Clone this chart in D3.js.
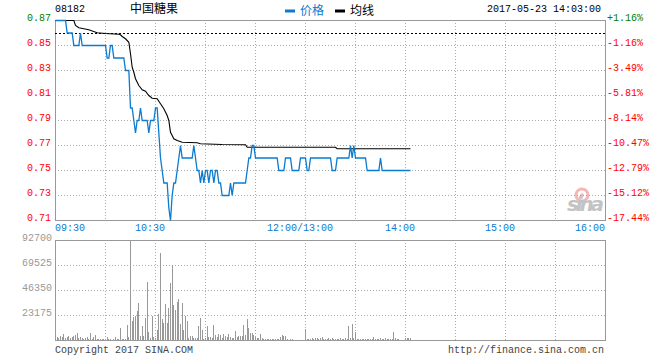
<!DOCTYPE html>
<html>
<head>
<meta charset="utf-8">
<script src="https://cdn.jsdelivr.net/npm/d3@7"></script>
<style>
  body { margin: 0; background: #fff; }
  svg text { font-family: "Liberation Mono", "DejaVu Sans Mono", monospace; font-size: 10px; }
</style>
</head>
<body>
<svg id="chart" width="660" height="360"></svg>
<script>
// -------------------- DATA -------------------- //
const stockCode = "08182";
const stockName = "中国糖果";
const stamp = "2017-05-23 14:03:00";
const prevClose = 0.86;

const priceTicks = [0.87, 0.85, 0.83, 0.81, 0.79, 0.77, 0.75, 0.73, 0.71];
const pctLabels = ["+1.16%", "-1.16%", "-3.49%", "-5.81%", "-8.14%", "-10.47%", "-12.79%", "-15.12%", "-17.44%"];
const volTicks = [92700, 69525, 46350, 23175];
const timeLabels = ["09:30", "10:30", "12:00/13:00", "14:00", "15:00", "16:00"];
const timeMinutes = [0, 60, 150, 210, 270, 330];

// price per minute from 09:30 (index 0) to 14:03
const price = [
  0.87, 0.87, 0.87, 0.87, 0.87, 0.87, 0.87, 0.86, 0.86, 0.86,
  0.86, 0.85, 0.85, 0.85, 0.85, 0.86, 0.85, 0.85, 0.85, 0.85,
  0.85, 0.85, 0.85, 0.85, 0.85, 0.85, 0.85, 0.85, 0.85, 0.85,
  0.85, 0.84, 0.84, 0.85, 0.85, 0.84, 0.84, 0.84, 0.84, 0.84,
  0.84, 0.84, 0.83, 0.83, 0.83, 0.80, 0.80, 0.79, 0.78, 0.79,
  0.79, 0.80, 0.79, 0.79, 0.79, 0.79, 0.78, 0.79, 0.79, 0.79,
  0.80, 0.80, 0.78, 0.76, 0.75, 0.74, 0.74, 0.74, 0.72, 0.71,
  0.73, 0.74, 0.74, 0.75, 0.76, 0.77, 0.76, 0.76, 0.76, 0.76,
  0.76, 0.76, 0.76, 0.77, 0.76, 0.75, 0.75, 0.74, 0.75, 0.74,
  0.75, 0.75, 0.74, 0.75, 0.75, 0.74, 0.75, 0.75, 0.74, 0.74,
  0.73, 0.73, 0.73, 0.73, 0.73, 0.74, 0.73, 0.74, 0.74, 0.74,
  0.74, 0.74, 0.74, 0.74, 0.74, 0.75, 0.76, 0.76, 0.77, 0.77,
  0.76, 0.76, 0.76, 0.76, 0.76, 0.76, 0.76, 0.76, 0.76, 0.76,
  0.76, 0.76, 0.76, 0.76, 0.75, 0.75, 0.75, 0.75, 0.76, 0.76,
  0.76, 0.76, 0.75, 0.75, 0.75, 0.75, 0.75, 0.76, 0.76, 0.76,
  0.76, 0.75, 0.75, 0.76, 0.76, 0.76, 0.76, 0.76, 0.76, 0.76,
  0.76, 0.76, 0.76, 0.76, 0.76, 0.76, 0.75, 0.75, 0.75, 0.76,
  0.76, 0.76, 0.76, 0.76, 0.76, 0.76, 0.76, 0.77, 0.76, 0.77,
  0.76, 0.76, 0.76, 0.76, 0.76, 0.76, 0.76, 0.75, 0.75, 0.75,
  0.75, 0.75, 0.75, 0.75, 0.75, 0.76, 0.75, 0.75, 0.75, 0.75,
  0.75, 0.75, 0.75, 0.75, 0.75, 0.75, 0.75, 0.75, 0.75, 0.75,
  0.75, 0.75, 0.75, 0.75
];

// average line (minute, value)
const avgMinutes = [0, 11, 12, 14, 17, 20, 25, 30, 38, 39, 40, 42, 44, 45, 46, 47, 48, 50, 52, 54, 56, 58, 61, 63, 65, 67, 68, 69, 70, 71, 73, 76, 85, 87, 100, 114, 115, 168, 169, 213];
const avgValues = [0.870, 0.870, 0.866, 0.8642, 0.8634, 0.8626, 0.8602, 0.8596, 0.859, 0.8586, 0.8572, 0.8554, 0.8526, 0.8434, 0.8326, 0.8286, 0.8234, 0.818, 0.8146, 0.8134, 0.81, 0.8078, 0.8074, 0.8034, 0.7994, 0.794, 0.79, 0.7806, 0.778, 0.7754, 0.774, 0.7726, 0.7722, 0.7714, 0.7708, 0.7706, 0.7686, 0.7686, 0.7674, 0.7674];

// volume per minute
const volume = [
  3000, 3100, 1500, 3700, 2500, 5600, 1500, 2500, 3700, 1500,
  3100, 3700, 4900, 6200, 1500, 2500, 1500, 1200, 1500, 2500,
  1200, 6200, 1200, 3100, 4300, 900, 900, 900, 600, 900,
  0, 2500, 600, 900, 0, 600, 2500, 900, 600, 10800,
  600, 1200, 1200, 13900, 3100, 92700, 17600, 21600, 22200, 27000,
  34600, 3700, 13000, 3700, 20700, 54000, 7700, 1500, 22200, 2500,
  1500, 9300, 24100, 81000, 19200, 16000, 33400, 15500, 29700, 53100,
  69500, 32400, 27800, 35000, 38000, 15200, 34600, 9300, 22200, 17900,
  1500, 3700, 3700, 1500, 1500, 2200, 13000, 20700, 9300, 1200,
  1500, 13000, 2500, 3100, 1500, 13900, 4600, 2500, 5200, 4600,
  1500, 5200, 3700, 3100, 5600, 2500, 1500, 1500, 8600, 2500,
  3700, 3700, 3700, 13900, 4600, 19800, 11400, 6800, 6200, 4600,
  2500, 1500, 1500, 5900, 1500, 900, 600, 600, 600, 600,
  900, 600, 900, 900, 600, 3100, 4300, 3700, 3700, 900,
  0, 900, 600, 0, 0, 0, 0, 0, 0, 0,
  10200, 1200, 1200, 900, 1500, 1200, 1500, 1500, 900, 1500,
  2500, 900, 900, 900, 1500, 900, 1500, 600, 600, 900,
  900, 1500, 600, 900, 1500, 900, 13000, 1500, 14500, 2100,
  7700, 1200, 1200, 900, 1200, 900, 1200, 600, 900, 600,
  900, 2500, 900, 1200, 600, 1500, 1200, 600, 1800, 600,
  1200, 600, 1200, 7700, 1500, 900, 600, 0, 0, 0,
  1800, 1800, 1500, 1800
];

// -------------------- LAYOUT -------------------- //
const svg = d3.select("#chart");
const L = 55, R = 605;
const PT = 20, PB = 220;   // price panel
const VT = 240, VB = 340;  // volume panel
const BLUE = "#0a7bd0";

const x = d3.scaleLinear().domain([0, 330]).range([L, R]);
const y = d3.scaleLinear().domain([0.71, 0.87]).range([PB, PT]);
const yv = d3.scaleLinear().domain([0, 92700]).range([VB, VT]);

const crisp = v => Math.round(v) + 0.5;

// -------------------- GRID -------------------- //
function grid(top, bottom, rows) {
  const g = svg.append("g")
    .attr("stroke", "#aaa").attr("stroke-dasharray", "1,2")
    .attr("shape-rendering", "crispEdges");
  d3.range(1, 11).forEach(i => {
    const gx = crisp(L + i * 50);
    g.append("line").attr("x1", gx).attr("x2", gx).attr("y1", top).attr("y2", bottom);
  });
  rows.forEach(gy => {
    g.append("line").attr("x1", L).attr("x2", R).attr("y1", crisp(gy)).attr("y2", crisp(gy));
  });
}
grid(PT, PB, priceTicks.slice(1, -1).map(y));
grid(VT, VB, volTicks.slice(1).map(yv));

// frames
[[PT, PB], [VT, VB]].forEach(([t, b]) => {
  svg.append("rect")
    .attr("x", L + 0.5).attr("y", t + 0.5)
    .attr("width", R - L).attr("height", b - t)
    .attr("fill", "none").attr("stroke", "#999")
    .attr("shape-rendering", "crispEdges");
});

// previous close
svg.append("line")
  .attr("x1", L).attr("x2", R)
  .attr("y1", crisp(y(prevClose))).attr("y2", crisp(y(prevClose)))
  .attr("stroke", "#000").attr("stroke-dasharray", "2,2")
  .attr("shape-rendering", "crispEdges");

// -------------------- AXIS LABELS -------------------- //
priceTicks.forEach((p, i) => {
  const c = p > prevClose ? "#008000" : "#ff0000";
  svg.append("text").attr("x", 51).attr("y", y(p) + 1)
    .attr("text-anchor", "end").attr("fill", c).text(p.toFixed(2));
  svg.append("text").attr("x", 607).attr("y", y(p) + 1)
    .attr("fill", c).text(pctLabels[i]);
});

volTicks.forEach(v => {
  svg.append("text").attr("x", 52).attr("y", yv(v) + 1)
    .attr("text-anchor", "end").attr("fill", "#999").text(v);
});

timeLabels.forEach((t, i) => {
  const tx = x(timeMinutes[i]);
  const last = i === timeLabels.length - 1;
  svg.append("text")
    .attr("x", i === 0 ? tx : last ? tx : tx - 5)
    .attr("y", 231)
    .attr("text-anchor", i === 0 ? "start" : last ? "end" : "middle")
    .attr("fill", BLUE).text(t);
});

// -------------------- VOLUME -------------------- //
svg.append("g").selectAll("line")
  .data(volume)
  .join("line")
  .attr("x1", (d, i) => crisp(x(i))).attr("x2", (d, i) => crisp(x(i)))
  .attr("y1", VB).attr("y2", d => yv(d))
  .attr("stroke", "#999")
  .attr("shape-rendering", "crispEdges");

// -------------------- LINES -------------------- //
const avgLine = d3.line()
  .x((d, i) => x(avgMinutes[i]) + 0.5)
  .y(d => y(d) + 0.5);
svg.append("path").datum(avgValues)
  .attr("d", avgLine)
  .attr("fill", "none").attr("stroke", "#000").attr("stroke-width", 1.1);

const priceLine = d3.line()
  .x((d, i) => x(i) + 0.5)
  .y(d => y(d) + 0.5);
svg.append("path").datum(price)
  .attr("d", priceLine)
  .attr("fill", "none").attr("stroke", BLUE).attr("stroke-width", 1.3);

// -------------------- HEADER / FOOTER -------------------- //
svg.append("text").attr("x", 55).attr("y", 12).attr("fill", "#000").text(stockCode);
svg.append("text").attr("x", 130).attr("y", 13)
  .style("font-family", "'Noto Sans CJK SC'").style("font-size", "12px")
  .attr("fill", "#000").text(stockName);

const legend = [["价格", BLUE, 285], ["均线", "#000", 335]];
legend.forEach(([name, c, lx]) => {
  svg.append("rect").attr("x", lx).attr("y", 9.5).attr("width", 10).attr("height", 3).attr("fill", c);
  svg.append("text").attr("x", lx + 15).attr("y", 15)
    .style("font-family", "'Noto Sans CJK SC'").style("font-size", "12px")
    .attr("fill", c).text(name);
});

svg.append("text").attr("x", 601).attr("y", 12)
  .attr("text-anchor", "end").attr("fill", "#000").text(stamp);

svg.append("text").attr("x", 55).attr("y", 353).attr("fill", "#444").text("Copyright 2017 SINA.COM");
svg.append("text").attr("x", 604).attr("y", 353)
  .attr("text-anchor", "end").attr("fill", "#444").text("http://finance.sina.com.cn");

// sina watermark
const wm = svg.append("g").attr("opacity", 0.5);
wm.append("circle").attr("cx", 582).attr("cy", 195).attr("r", 6)
  .attr("fill", "none").attr("stroke", "#f07070").attr("stroke-width", 3);
wm.append("circle").attr("cx", 582).attr("cy", 195).attr("r", 1.8).attr("fill", "#f07070");
wm.append("text").attr("x", 567).attr("y", 211)
  .style("font-family", "'DejaVu Sans'").style("font-size", "20px")
  .style("font-weight", "bold").style("font-style", "italic")
  .attr("textLength", 37).attr("fill", "#888").text("sina");
</script>
</body>
</html>
